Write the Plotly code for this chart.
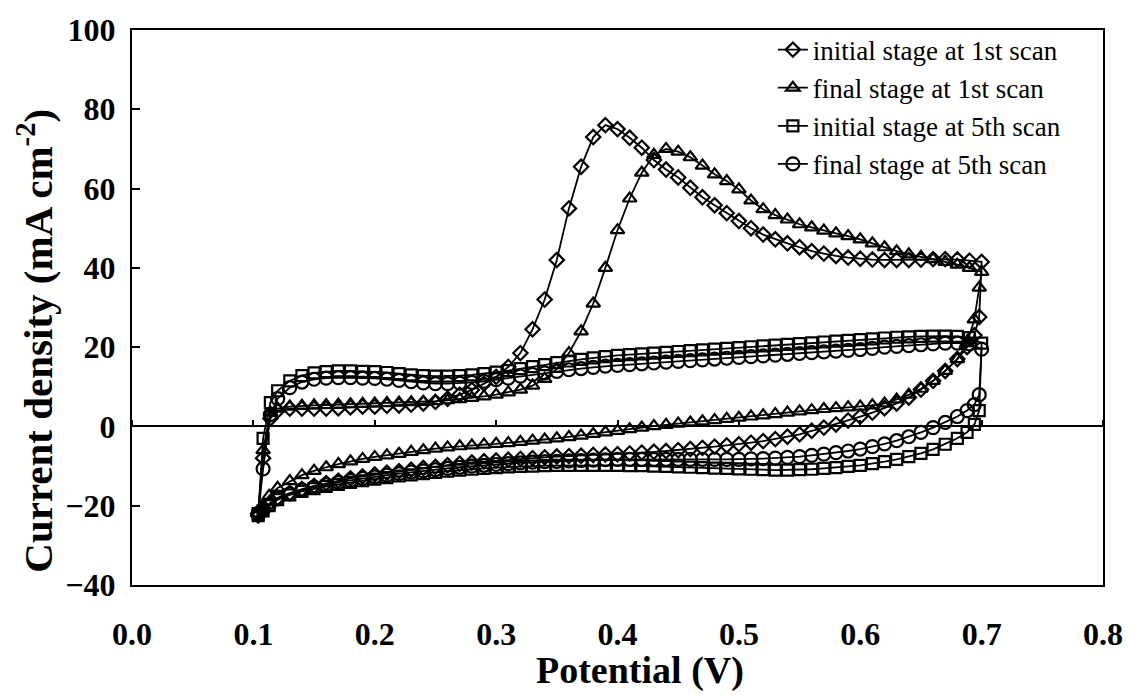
import plotly.graph_objects as go

# Potential grid (V) for the anodic sweep and the cathodic sweep
potential_fwd = [0.104, 0.108, 0.114, 0.12, 0.13, 0.14, 0.15, 0.16, 0.17, 0.18, 0.19,
                 0.20, 0.21, 0.22, 0.23, 0.24, 0.25, 0.26, 0.27, 0.28, 0.29,
                 0.30, 0.31, 0.32, 0.33, 0.34, 0.35, 0.36, 0.37, 0.38, 0.39,
                 0.40, 0.41, 0.42, 0.43, 0.44, 0.45, 0.46, 0.47, 0.48, 0.49,
                 0.50, 0.51, 0.52, 0.53, 0.54, 0.55, 0.56, 0.57, 0.58, 0.59,
                 0.60, 0.61, 0.62, 0.63, 0.64, 0.65, 0.66, 0.67, 0.68, 0.69, 0.70]
potential_rev = [0.698, 0.694, 0.688, 0.68, 0.67, 0.66, 0.65, 0.64, 0.63, 0.62, 0.61,
                 0.60, 0.59, 0.58, 0.57, 0.56, 0.55, 0.54, 0.53, 0.52, 0.51,
                 0.50, 0.49, 0.48, 0.47, 0.46, 0.45, 0.44, 0.43, 0.42, 0.41,
                 0.40, 0.39, 0.38, 0.37, 0.36, 0.35, 0.34, 0.33, 0.32, 0.31,
                 0.30, 0.29, 0.28, 0.27, 0.26, 0.25, 0.24, 0.23, 0.22, 0.21,
                 0.20, 0.19, 0.18, 0.17, 0.16, 0.15, 0.14, 0.13, 0.12, 0.113, 0.108, 0.104]

# Current density (mA cm-2): initial stage at 1st scan
init1_fwd = [-22, -8, 2, 4, 4.5, 4.5, 4.5, 4.5, 4.6, 4.8, 5,
             5, 5.2, 5.3, 5.5, 5.8, 6.2, 7, 8, 9.2, 10.8,
             12.5, 15, 18.5, 24.5, 32, 42, 55, 65.5, 73, 76,
             75, 72.8, 70.3, 67.2, 64.8, 62.8, 60.2, 57.8, 55.8, 53.8,
             51.8, 50, 48.4, 47.2, 46.2, 45.2, 44.2, 43.6, 43, 42.6,
             42.3, 42.1, 42, 42, 42, 42.1, 42.2, 42.2, 42.1, 41.8, 41.5]
init1_rev = [27.6, 23, 20, 17, 14, 11.5, 9.3, 7.3, 5.8, 4.6, 3.5,
             2.5, 1.5, 0.5, -0.3, -1.1, -2, -2.6, -3.2, -3.7, -4.1,
             -4.5, -4.8, -5.1, -5.4, -5.7, -6, -6.2, -6.4, -6.6, -6.8,
             -7, -7.1, -7.2, -7.4, -7.5, -7.6, -7.8, -8, -8.2, -8.4,
             -8.6, -8.8, -9.1, -9.4, -9.8, -10.2, -10.5, -10.9, -11.3, -11.7,
             -12.1, -12.6, -13.1, -13.7, -14.3, -15, -15.8, -16.8, -18, -19.5, -21, -22.5]

# final stage at 1st scan
final1_fwd = [-22, -6, 3.5, 4.5, 5, 5.2, 5.3, 5.4, 5.5, 5.6, 5.7,
              5.8, 5.9, 6, 6.1, 6.2, 6.4, 6.6, 6.9, 7.2, 7.6,
              8, 8.6, 9.3, 10.3, 12, 14.5, 18.5, 24, 31, 40,
              49.5, 57.5, 64, 68.5, 70, 69.3, 67.9, 65.8, 63.6, 61.9,
              59.8, 57, 54.8, 53.3, 52.2, 51, 50.2, 49.4, 48.7, 48,
              47.2, 46.2, 45.2, 44.2, 43.4, 42.8, 42.2, 41.5, 40.8, 40, 39]
final1_rev = [35, 27, 21, 17, 14, 11.5, 9.5, 8, 6.8, 5.8, 5.3,
              5, 4.8, 4.6, 4.4, 4.1, 3.8, 3.5, 3.1, 2.8, 2.5,
              2.2, 1.9, 1.6, 1.3, 1, 0.7, 0.4, 0.1, -0.3, -0.7,
              -1.1, -1.5, -1.9, -2.3, -2.7, -3, -3.3, -3.6, -3.9, -4.2,
              -4.4, -4.6, -4.8, -5, -5.3, -5.6, -6, -6.4, -6.9, -7.3,
              -7.7, -8.2, -8.8, -9.5, -10.3, -11.2, -12.3, -13.8, -15.5, -17.5, -19.8, -22]

# initial stage at 5th scan
init5_fwd = [-22, -3, 6, 9, 11.5, 12.8, 13.5, 13.8, 14, 14, 13.9,
             13.8, 13.6, 13.3, 13, 12.8, 12.7, 12.7, 12.8, 13, 13.3,
             13.7, 14.1, 14.6, 15.1, 15.6, 16.1, 16.5, 16.9, 17.3, 17.6,
             17.9, 18.1, 18.3, 18.5, 18.7, 18.9, 19.1, 19.3, 19.5, 19.7,
             19.9, 20.1, 20.3, 20.5, 20.7, 20.9, 21.1, 21.3, 21.5, 21.7,
             21.9, 22.1, 22.3, 22.5, 22.6, 22.7, 22.8, 22.8, 22.7, 22.4, 21]
init5_rev = [4, 0.5, -1.5, -3, -4.5, -5.8, -6.8, -7.6, -8.3, -8.9, -9.4,
             -9.8, -10.1, -10.4, -10.6, -10.8, -10.9, -11, -11, -10.9, -10.8,
             -10.7, -10.6, -10.5, -10.4, -10.3, -10.2, -10.1, -10, -9.9, -9.9,
             -9.8, -9.8, -9.8, -9.8, -9.8, -9.8, -9.9, -10, -10.1, -10.2,
             -10.4, -10.6, -10.8, -11, -11.3, -11.6, -11.9, -12.2, -12.5, -12.9,
             -13.3, -13.7, -14.1, -14.6, -15.1, -15.7, -16.4, -17.3, -18.5, -20, -21.3, -22.5]

# final stage at 5th scan
final5_fwd = [-22, -10.7, 3, 7, 9.8, 11.2, 11.9, 12.2, 12.3, 12.3, 12.2,
              12.1, 11.9, 11.6, 11.3, 11, 10.8, 10.8, 10.9, 11.1, 11.4,
              11.8, 12.2, 12.7, 13.1, 13.5, 13.9, 14.3, 14.6, 14.9, 15.2,
              15.4, 15.6, 15.8, 16, 16.2, 16.4, 16.6, 16.8, 17, 17.2,
              17.4, 17.6, 17.8, 18, 18.2, 18.4, 18.6, 18.8, 19, 19.2,
              19.4, 19.7, 20, 20.2, 20.4, 20.6, 20.8, 21, 21, 20.8, 19.5]
final5_rev = [8, 5.5, 4, 2.5, 1, -0.3, -1.5, -2.6, -3.6, -4.4, -5.1,
              -5.7, -6.2, -6.6, -7, -7.3, -7.6, -7.8, -8, -8.1, -8.2,
              -8.3, -8.3, -8.3, -8.3, -8.3, -8.3, -8.3, -8.3, -8.3, -8.3,
              -8.3, -8.4, -8.5, -8.6, -8.7, -8.8, -8.9, -9, -9.2, -9.4,
              -9.6, -9.8, -10, -10.3, -10.6, -10.9, -11.2, -11.5, -11.9, -12.3,
              -12.7, -13.1, -13.6, -14.1, -14.7, -15.3, -16, -17, -18.2, -19.8, -21, -22]

series_names = ["initial stage at 1st scan", "final stage at 1st scan",
                "initial stage at 5th scan", "final stage at 5th scan"]
series_fwd = [init1_fwd, final1_fwd, init5_fwd, final5_fwd]
series_rev = [init1_rev, final1_rev, init5_rev, final5_rev]
symbols = ["diamond-open", "triangle-up-open", "square-open", "circle-open"]
marker_sizes = [11, 12, 11, 13]

serif = "Liberation Serif"

fig = go.Figure()
for name, fwd, rev, sym, msz in zip(series_names, series_fwd, series_rev, symbols, marker_sizes):
    fig.add_trace(go.Scatter(
        x=potential_fwd + potential_rev,
        y=fwd + rev,
        name=name,
        mode="lines+markers",
        line=dict(color="black", width=1.8),
        marker=dict(symbol=sym, size=msz, color="black", line=dict(color="black", width=2.2)),
    ))

axis_font = dict(family=serif, size=32, color="black", weight="bold")
title_font = dict(family=serif, size=41, color="black", weight="bold")
xtitle_font = dict(family=serif, size=38, color="black", weight="bold")

fig.update_layout(
    width=1135, height=698,
    margin=dict(l=132, r=27, t=22, b=113),
    plot_bgcolor="white", paper_bgcolor="white",
    font=dict(family=serif, color="black"),
    showlegend=True,
    legend=dict(
        x=0.66, y=1.008, xanchor="left", yanchor="top",
        bgcolor="rgba(0,0,0,0)", borderwidth=0,
        font=dict(family=serif, size=27, color="black"),
        itemwidth=30, tracegroupgap=0,
    ),
    xaxis=dict(
        range=[0, 0.8], dtick=0.1, tickformat=".1f",
        showgrid=False, zeroline=False,
        showline=True, linecolor="black", linewidth=2, mirror=True,
        ticks="", tickfont=axis_font, ticklabelstandoff=20,
    ),
    # tick marks on the zero-current line
    xaxis2=dict(
        range=[0, 0.8], dtick=0.1, overlaying="x", anchor="free",
        position=40 / 140, side="top",
        showgrid=False, zeroline=False, showticklabels=False,
        showline=True, linecolor="black", linewidth=1.5,
        ticks="outside", ticklen=6, tickwidth=1.5, tickcolor="black",
    ),
    yaxis=dict(
        range=[-40, 100], dtick=20,
        showgrid=False, zeroline=False,
        showline=True, linecolor="black", linewidth=2, mirror=True,
        ticks="inside", ticklen=8, tickwidth=1.5, tickcolor="black",
        tickfont=axis_font, ticklabelstandoff=8,
    ),
    annotations=[
        dict(text="Potential (V)", xref="paper", yref="paper",
             x=0.5236, y=-0.197, xanchor="center", yanchor="bottom",
             showarrow=False, font=xtitle_font),
        dict(text="Current density (mA cm<sup>-2</sup>)", xref="paper", yref="paper",
             x=-0.1, y=0.44, xanchor="center", yanchor="middle", textangle=-90,
             showarrow=False, font=title_font),
    ],
)

# carrier trace so the zero-line tick axis is rendered
fig.add_trace(go.Scatter(x=[None], y=[None], xaxis="x2", showlegend=False,
                         hoverinfo="skip", mode="lines"))

fig.write_html("out.html")
